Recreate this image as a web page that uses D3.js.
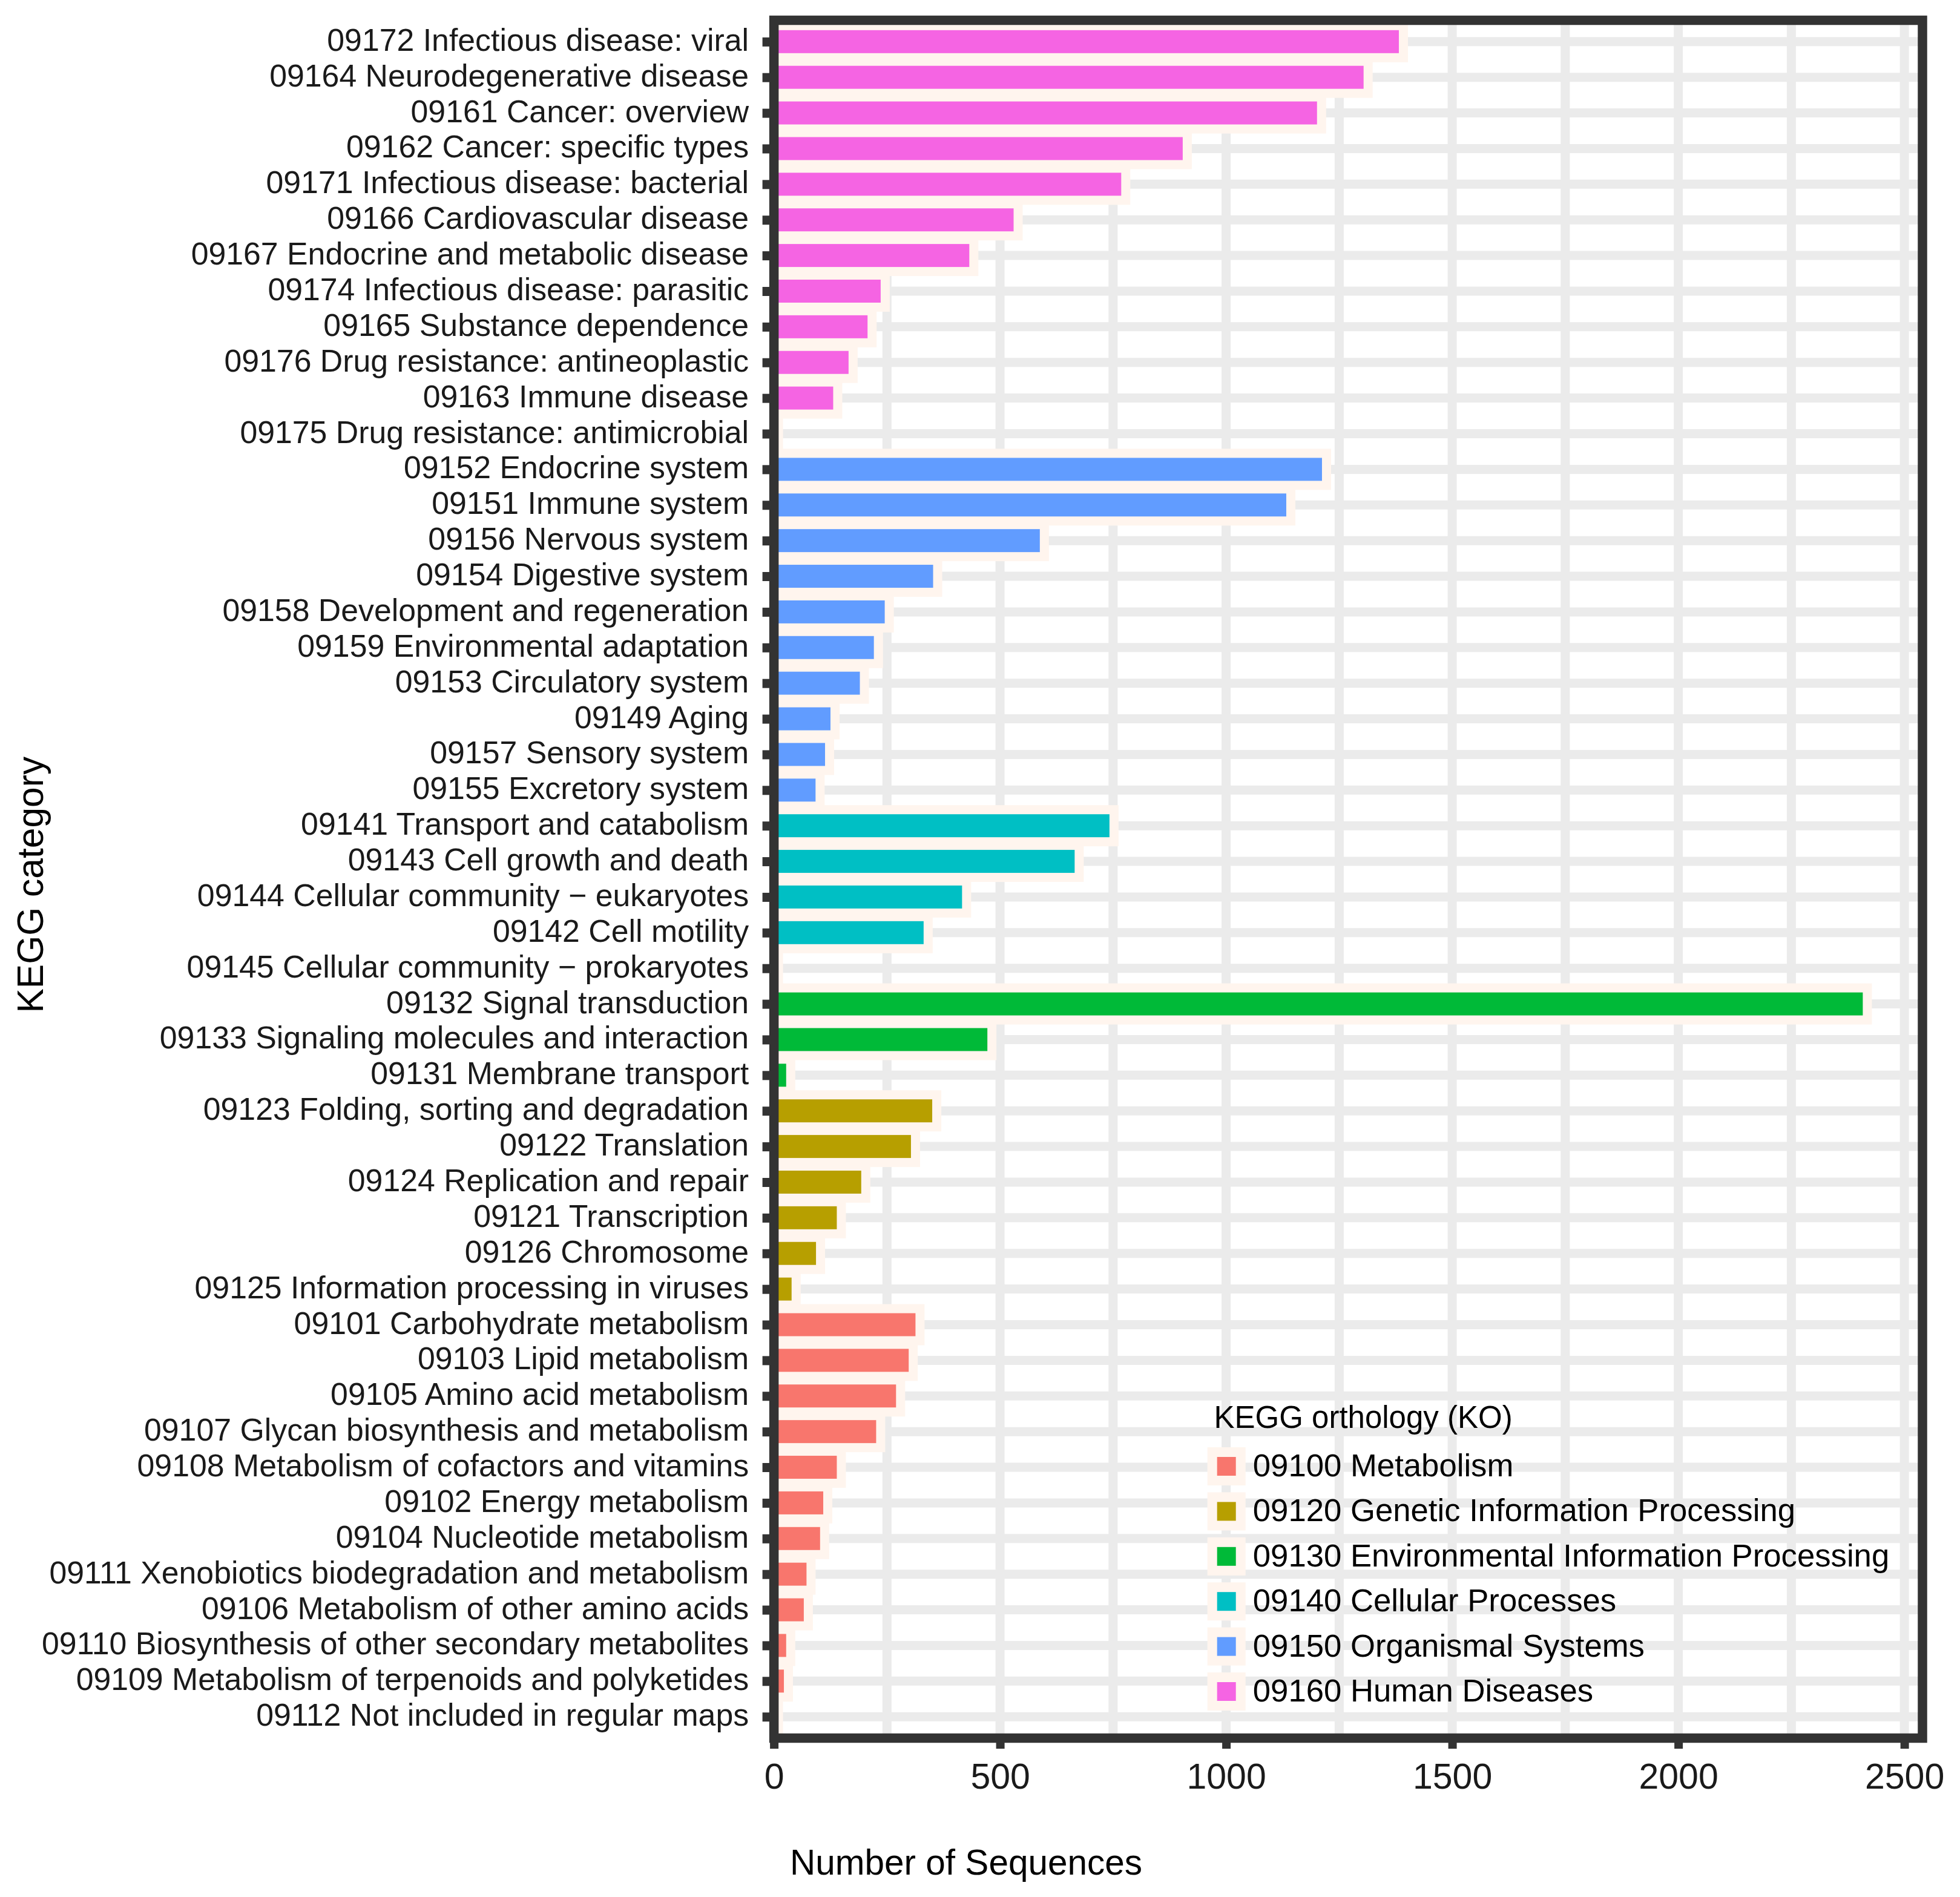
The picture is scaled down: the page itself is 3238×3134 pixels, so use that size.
<!DOCTYPE html>
<html><head><meta charset="utf-8">
<script src="https://cdn.jsdelivr.net/npm/d3@7"></script>
<style>
body{margin:0;background:#fff;}
text{font-family:"Liberation Sans",Arial,Helvetica,sans-serif;}
</style>
</head><body>
<svg id="chart" width="3238" height="3134"></svg>
<script>
// ---------------- DATA ----------------
const categories = [
  "09172 Infectious disease: viral","09164 Neurodegenerative disease","09161 Cancer: overview",
  "09162 Cancer: specific types","09171 Infectious disease: bacterial","09166 Cardiovascular disease",
  "09167 Endocrine and metabolic disease","09174 Infectious disease: parasitic","09165 Substance dependence",
  "09176 Drug resistance: antineoplastic","09163 Immune disease","09175 Drug resistance: antimicrobial",
  "09152 Endocrine system","09151 Immune system","09156 Nervous system","09154 Digestive system",
  "09158 Development and regeneration","09159 Environmental adaptation","09153 Circulatory system",
  "09149 Aging","09157 Sensory system","09155 Excretory system",
  "09141 Transport and catabolism","09143 Cell growth and death","09144 Cellular community \u2212 eukaryotes",
  "09142 Cell motility","09145 Cellular community \u2212 prokaryotes",
  "09132 Signal transduction","09133 Signaling molecules and interaction","09131 Membrane transport",
  "09123 Folding, sorting and degradation","09122 Translation","09124 Replication and repair",
  "09121 Transcription","09126 Chromosome","09125 Information processing in viruses",
  "09101 Carbohydrate metabolism","09103 Lipid metabolism","09105 Amino acid metabolism",
  "09107 Glycan biosynthesis and metabolism","09108 Metabolism of cofactors and vitamins",
  "09102 Energy metabolism","09104 Nucleotide metabolism","09111 Xenobiotics biodegradation and metabolism",
  "09106 Metabolism of other amino acids","09110 Biosynthesis of other secondary metabolites",
  "09109 Metabolism of terpenoids and polyketides","09112 Not included in regular maps"
];
const values = [
  1382,1304,1201,904,768,530,432,236,207,165,131,0,
  1212,1133,588,352,245,221,190,125,113,92,
  742,665,416,331,0,
  2408,472,27,
  350,303,193,139,93,39,
  313,298,270,226,139,109,102,72,66,27,22,0
];
const groupNames = [
  "09100 Metabolism","09120 Genetic Information Processing","09130 Environmental Information Processing",
  "09140 Cellular Processes","09150 Organismal Systems","09160 Human Diseases"
];
const categoryGroup = [
  ...Array(12).fill("09160 Human Diseases"),
  ...Array(10).fill("09150 Organismal Systems"),
  ...Array(5).fill("09140 Cellular Processes"),
  ...Array(3).fill("09130 Environmental Information Processing"),
  ...Array(6).fill("09120 Genetic Information Processing"),
  ...Array(12).fill("09100 Metabolism")
];
const xTicks = [0,500,1000,1500,2000,2500];
const xGrid = [0,250,500,750,1000,1250,1500,1750,2000,2250,2500];
const palette = ["#F8766D","#B79F00","#00BA38","#00BFC4","#619CFF","#F564E3"];

// ---------------- LAYOUT ----------------
const svg = d3.select("#chart");
const P = {left:1278.6, right:3176, top:33.5, bottom:2871.5};
const xMax = 2540;
const x = d3.scaleLinear().domain([0,xMax]).range([P.left,P.right]);
const y = d3.scalePoint().domain(categories).range([P.top,P.bottom]).padding(0.6);
const color = d3.scaleOrdinal().domain(groupNames).range(palette);
const bh = y.step()*0.645;
const shadow = "#FFF5EE";
const rows = categories.map((c,i)=>({c, v:values[i], g:categoryGroup[i]}));

svg.append("rect").attr("width",3238).attr("height",3134).attr("fill","#fff");

svg.append("clipPath").attr("id","pclip").append("rect")
  .attr("x",P.left).attr("y",P.top).attr("width",P.right-P.left).attr("height",P.bottom-P.top);
const panel = svg.append("g").attr("clip-path","url(#pclip)");

// grid
panel.selectAll("line.gx").data(xGrid).join("line")
  .attr("x1",d=>x(d)).attr("x2",d=>x(d)).attr("y1",P.top).attr("y2",P.bottom)
  .attr("stroke","#EBEBEB").attr("stroke-width",15);
panel.selectAll("line.gy").data(categories).join("line")
  .attr("x1",P.left).attr("x2",P.right).attr("y1",d=>y(d)).attr("y2",d=>y(d))
  .attr("stroke","#EBEBEB").attr("stroke-width",15);

// shadows
panel.selectAll("rect.sh").data(rows).join("rect")
  .attr("x",P.left-15).attr("y",d=>y(d.c)-bh/2-15)
  .attr("width",d=>x(d.v)-P.left+30).attr("height",bh+30)
  .attr("fill",shadow);
// bars
panel.selectAll("rect.bar").data(rows.filter(d=>d.v>0)).join("rect")
  .attr("x",P.left).attr("y",d=>y(d.c)-bh/2)
  .attr("width",d=>x(d.v)-P.left).attr("height",bh)
  .attr("fill",d=>color(d.g));

// axes
const xAxis = svg.append("g").attr("transform",`translate(0,${P.bottom})`)
  .call(d3.axisBottom(x).tickValues(xTicks).tickFormat(d3.format("d")).tickSize(17.5).tickPadding(24));
xAxis.select(".domain").remove();
xAxis.selectAll(".tick line").attr("stroke","#333333").attr("stroke-width",14);
xAxis.selectAll(".tick text").attr("font-size",59).attr("fill","#1a1a1a")
  .attr("font-family","'Liberation Sans',Arial,sans-serif");

const yAxis = svg.append("g").attr("transform",`translate(${P.left},0)`)
  .call(d3.axisLeft(y).tickSize(19).tickPadding(22.5));
yAxis.select(".domain").remove();
yAxis.selectAll(".tick line").attr("stroke","#333333").attr("stroke-width",15);
yAxis.selectAll(".tick text").attr("font-size",51.8).attr("fill","#1a1a1a").attr("dy","0.28em")
  .attr("font-family","'Liberation Sans',Arial,sans-serif");

// border
svg.append("rect").attr("x",P.left).attr("y",P.top)
  .attr("width",P.right-P.left).attr("height",P.bottom-P.top)
  .attr("fill","none").attr("stroke","#333333").attr("stroke-width",15.5);

// axis titles
svg.append("text").attr("x",1305).attr("y",3097).attr("font-size",58.5).attr("fill","#000")
  .text("Number of Sequences");
svg.append("text").attr("transform","translate(71,1461.7) rotate(-90)")
  .attr("text-anchor","middle").attr("font-size",60.5).attr("fill","#000")
  .text("KEGG category");

// legend
const lg = svg.append("g");
lg.append("text").attr("x",2005.5).attr("y",2358.6).attr("font-size",51).attr("fill","#000")
  .text("KEGG orthology (KO)");
const item = lg.selectAll("g.item").data(groupNames).join("g")
  .attr("transform",(d,i)=>`translate(0,${2422.5+i*74.4})`);
item.append("rect").attr("x",1994.7).attr("y",-31.5).attr("width",63).attr("height",63).attr("fill",shadow);
item.append("rect").attr("x",2010.7).attr("y",-15.5).attr("width",31).attr("height",31).attr("fill",d=>color(d));
item.append("text").attr("x",2069.8).attr("y",16.5).attr("font-size",52.7).attr("fill","#000").text(d=>d);
</script>
</body></html>
